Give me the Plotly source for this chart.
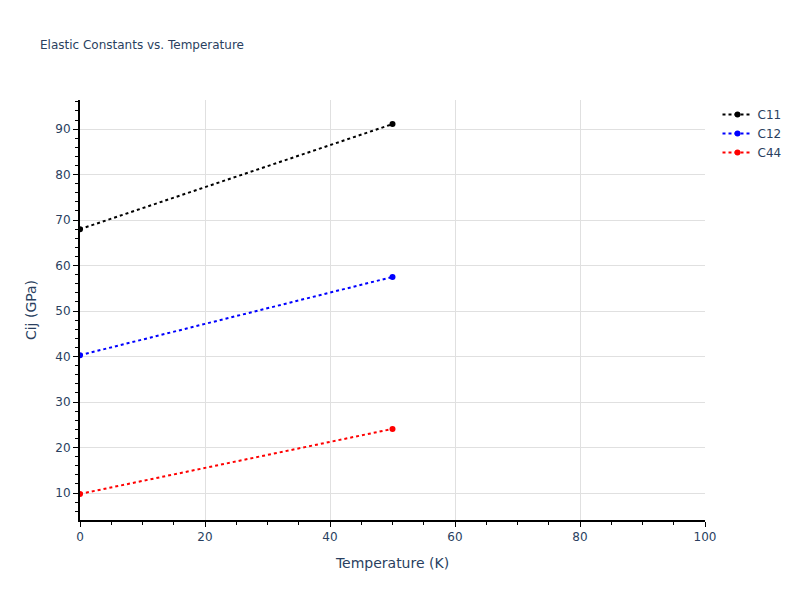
import plotly.graph_objects as go

temperature = [0, 50]
c11 = [68.0, 91.1]
c12 = [40.3, 57.5]
c44 = [9.8, 24.1]

series = [("C11", c11, "black"), ("C12", c12, "blue"), ("C44", c44, "red")]

fig = go.Figure()
for name, vals, color in series:
    fig.add_trace(go.Scatter(
        x=temperature, y=vals, name=name, mode="lines+markers",
        line=dict(color=color, dash="dot", width=2),
        marker=dict(color=color, size=6),
    ))

axis_common = dict(
    showline=True, linecolor="black", linewidth=2,
    ticks="outside", tickcolor="black", ticklen=5,
    showgrid=True, gridcolor="#e0e0e0",
    zeroline=False,
)
fig.update_layout(
    template="plotly_white",
    width=800, height=600,
    font=dict(family="DejaVu Sans, Verdana, sans-serif"),
    title=dict(text="Elastic Constants vs. Temperature", font=dict(size=12), x=0.05, y=0.925, yanchor="middle"),
    margin=dict(l=80, r=95, t=100, b=80),
    xaxis=dict(title=dict(text="Temperature (K)"), range=[0, 100], dtick=20,
               minor=dict(dtick=5, ticks="outside", ticklen=3, tickcolor="black", showgrid=False),
               **axis_common),
    yaxis=dict(title=dict(text="Cij (GPa)"), range=[4.07, 96.4], dtick=10,
               minor=dict(dtick=2, ticks="outside", ticklen=3, tickcolor="black", showgrid=False),
               **axis_common),
)
fig.write_html("out.html", config={"displayModeBar": False},
               post_script="document.body.style.margin='0';")
